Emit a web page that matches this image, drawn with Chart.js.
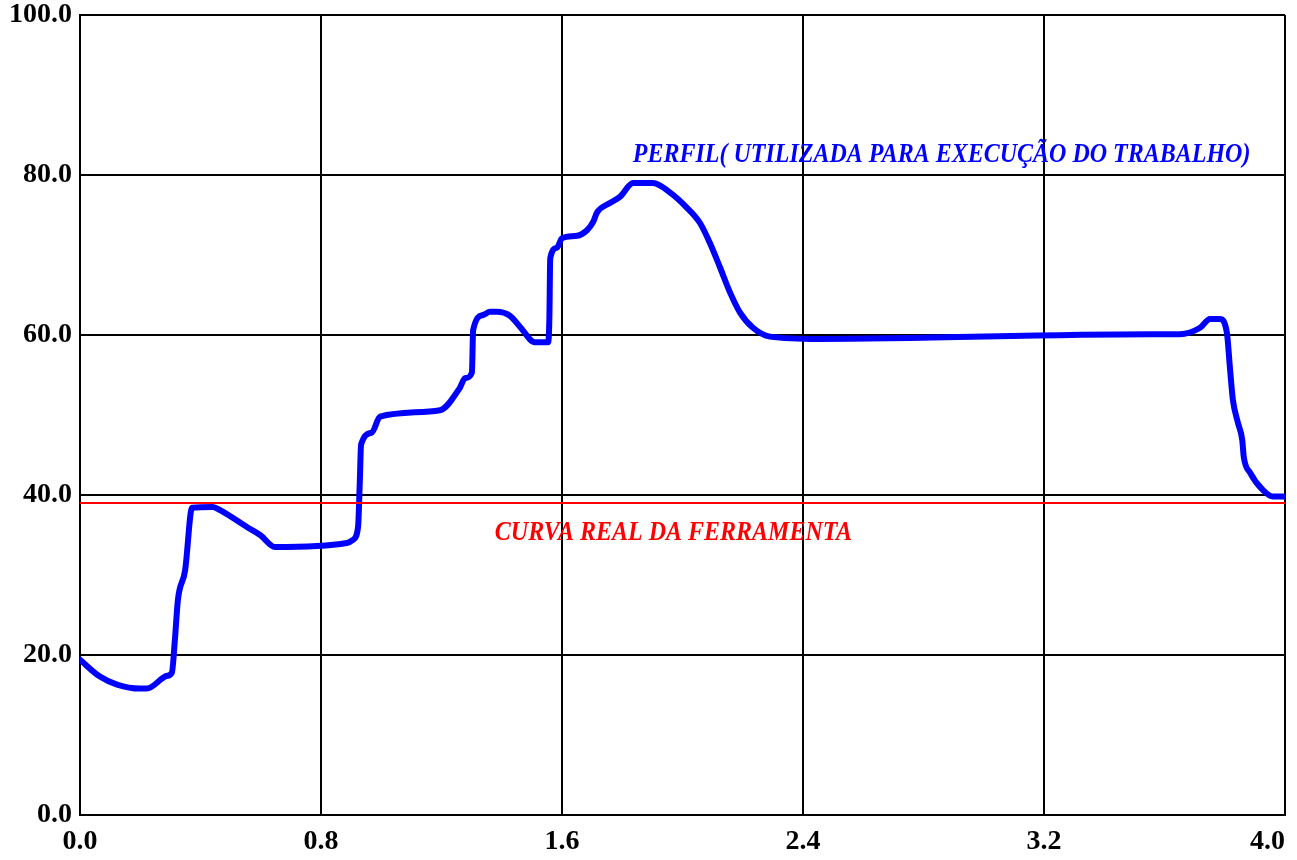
<!DOCTYPE html>
<html>
<head>
<meta charset="utf-8">
<script src="https://cdn.jsdelivr.net/npm/chart.js@4.4.1/dist/chart.umd.min.js"></script>
<style>
    html, body { margin: 0; padding: 0; background: #ffffff; }
    #wrap { width: 1297px; height: 860px; }
</style>
</head>
<body>
<div id="wrap"><canvas id="chart"></canvas></div>
<script>
// Perfil data
const perfilX = [0.000, 0.066, 0.123, 0.199, 0.222, 0.289, 0.305, 0.315, 0.325, 0.349,
    0.372, 0.441, 0.465, 0.554, 0.598, 0.647, 0.886, 0.906, 0.923, 0.929,
    0.933, 0.969, 0.996, 1.195, 1.261, 1.278, 1.301, 1.305, 1.338, 1.361,
    1.384, 1.427, 1.461, 1.510, 1.554, 1.558, 1.561, 1.583, 1.600, 1.650,
    1.683, 1.703, 1.716, 1.759, 1.793, 1.836, 1.902, 1.959, 2.015, 2.058,
    2.091, 2.124, 2.158, 2.191, 2.234, 2.290, 2.456, 3.552, 3.651, 3.718,
    3.751, 3.784, 3.807, 3.817, 3.827, 3.844, 3.858, 3.863, 3.884, 3.927,
    3.960, 3.993];
const perfilY = [19.4, 17.3, 16.3, 15.8, 15.8, 17.4, 17.8, 21.9, 26.9, 30.6,
    38.4, 38.5, 38.1, 36.0, 35.0, 33.5, 34.0, 34.4, 36.0, 41.9,
    46.3, 47.8, 49.8, 50.6, 53.4, 54.6, 55.3, 60.6, 62.5, 62.9,
    62.9, 62.4, 61.0, 59.1, 59.1, 61.9, 69.6, 70.9, 72.1, 72.4,
    73.1, 74.1, 75.3, 76.5, 77.3, 79.0, 79.0, 77.8, 75.9, 74.0,
    71.5, 68.5, 65.3, 62.8, 60.9, 59.8, 59.5, 60.1, 60.1, 60.9,
    62.0, 62.0, 60.3, 56.0, 51.9, 49.0, 46.9, 44.8, 42.8, 40.6,
    39.8, 39.8];

// Curva real da ferramenta (constant level)
const curvaX = [0.0, 4.0];
const curvaY = [39.0, 39.0];

const xTicks = [0.0, 0.8, 1.6, 2.4, 3.2, 4.0];
const yTicks = [0, 20, 40, 60, 80, 100];

const perfilLabel = 'PERFIL( UTILIZADA PARA EXECUÇÃO DO TRABALHO)';
const curvaLabel = 'CURVA REAL DA FERRAMENTA';

const toPoints = (xs, ys) => xs.map((x, i) => ({ x: x, y: ys[i] }));

// Draws the two italic captions inside the plot
const captionPlugin = {
    id: 'captions',
    afterDatasetsDraw(chart) {
        const ctx = chart.ctx;
        const xs = chart.scales.x;
        const ys = chart.scales.y;
        const caption = (text, color, x, y) => {
            ctx.save();
            ctx.translate(xs.getPixelForValue(x), ys.getPixelForValue(y));
            ctx.scale(1, 1.1);
            ctx.fillStyle = color;
            ctx.fillText(text, 0, 0);
            ctx.restore();
        };
        ctx.save();
        ctx.textAlign = 'center';
        ctx.textBaseline = 'alphabetic';
        ctx.font = 'italic bold 24px "Liberation Serif", "Times New Roman", serif';
        caption(perfilLabel, '#0000ff', 2.86, 81.6);
        caption(curvaLabel, '#ff0000', 1.97, 34.4);
        ctx.restore();
    }
};

const tickFont = { family: '"Liberation Serif", "Times New Roman", serif', size: 28, weight: 'bold' };

new Chart(document.getElementById('chart').getContext('2d'), {
    type: 'line',
    data: {
        datasets: [
            {
                label: 'Curva real',
                data: toPoints(curvaX, curvaY),
                borderColor: '#ff0000',
                borderWidth: 2,
                pointRadius: 0,
                tension: 0
            },
            {
                label: 'Perfil',
                data: toPoints(perfilX, perfilY),
                borderColor: '#0000ff',
                borderWidth: 6,
                pointRadius: 0,
                cubicInterpolationMode: 'monotone',
                borderJoinStyle: 'round',
                borderCapStyle: 'round'
            }
        ]
    },
    options: {
        responsive: true,
        maintainAspectRatio: false,
        animation: false,
        layout: {
            padding: { top: 15, right: 12, bottom: 0, left: 0 }
        },
        plugins: {
            legend: { display: false },
            tooltip: { enabled: false }
        },
        scales: {
            x: {
                type: 'linear',
                min: 0,
                max: 4,
                afterBuildTicks: (scale) => {
                    scale.ticks = xTicks.map(v => ({ value: v }));
                },
                afterFit: (scale) => {
                    scale.height = 45;
                    scale.paddingLeft = 0;
                    scale.paddingRight = 0;
                },
                grid: {
                    color: '#000000',
                    lineWidth: 2,
                    drawTicks: false
                },
                border: { display: true, color: '#000000', width: 2 },
                ticks: {
                    color: '#000000',
                    font: tickFont,
                    padding: 10,
                    maxRotation: 0,
                    // last label sits left of the right edge, as in the original
                    callback: (v) => v === 4 ? '4.0     ' : Number(v).toFixed(1)
                }
            },
            y: {
                type: 'linear',
                min: 0,
                max: 100,
                afterBuildTicks: (scale) => {
                    scale.ticks = yTicks.map(v => ({ value: v }));
                },
                afterFit: (scale) => {
                    scale.width = 80;
                    scale.paddingTop = 0;
                    scale.paddingBottom = 0;
                },
                grid: {
                    color: '#000000',
                    lineWidth: 2,
                    drawTicks: false
                },
                border: { display: true, color: '#000000', width: 2 },
                ticks: {
                    color: '#000000',
                    font: tickFont,
                    padding: 8,
                    callback: (v) => Number(v).toFixed(1)
                }
            }
        }
    },
    plugins: [captionPlugin]
});
</script>
</body>
</html>
